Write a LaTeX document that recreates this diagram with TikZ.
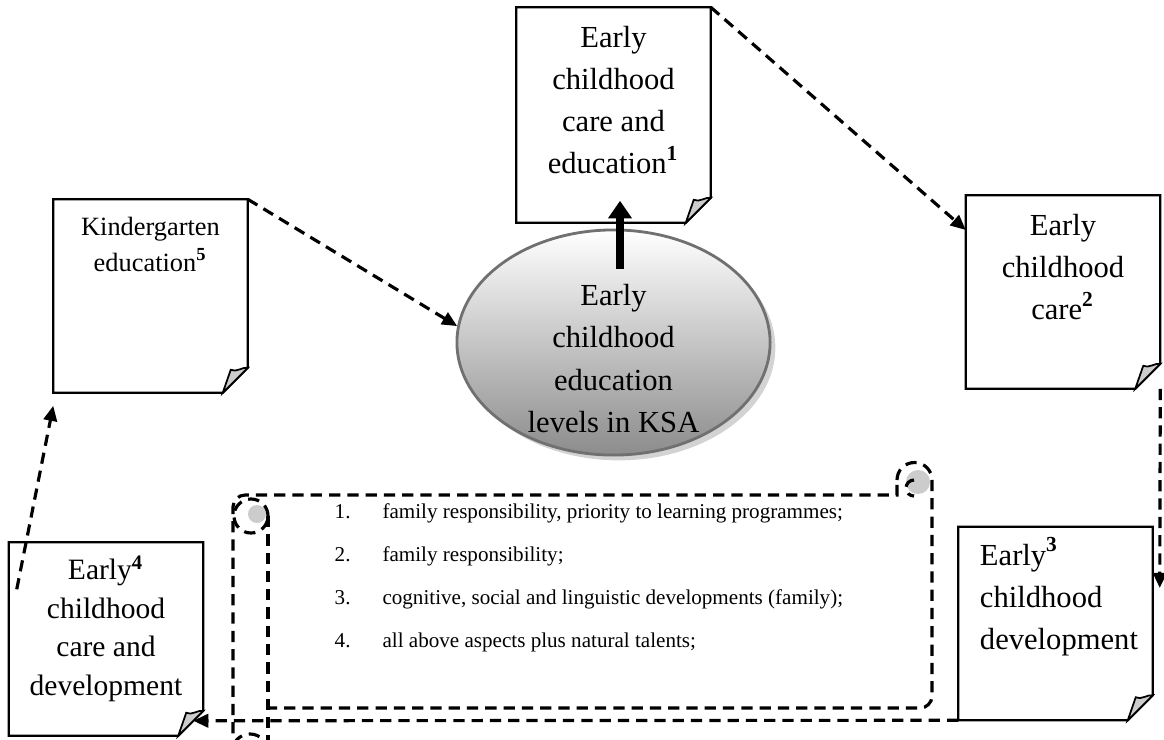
\documentclass[tikz,border=0pt]{standalone}
\usepackage{fontspec}
\setmainfont{Liberation Serif}
\usetikzlibrary{shapes.geometric,arrows.meta,positioning,shadows}
\definecolor{foldgray}{RGB}{204,204,204}
\definecolor{ringgray}{RGB}{112,112,112}
\definecolor{shadegray}{RGB}{140,140,140}

\newcommand{\bigtxt}{\fontsize{8.7}{12}\selectfont}
\newcommand{\smalltxt}{\fontsize{6}{12.2}\selectfont}

\begin{document}
\begin{tikzpicture}[x=0.01cm, y=-0.01cm,
  note/.style={rectangle, minimum width=1.93cm, minimum height=1.92cm, inner sep=0pt},
  txt/.style={inner sep=0pt, align=center, font=\bigtxt},
  flow/.style={draw, line width=0.9pt, dash pattern=on 3.2pt off 2pt, -{Triangle[length=4.3pt,width=3.8pt]}},
  scrollline/.style={line width=0.9pt, dash pattern=on 3.2pt off 2pt}]

\useasboundingbox (0,0) rectangle (1164,739);

% the five notes
\node[note, minimum height=2.14cm] (edu) at (613.5,115) {};
\node[note] (care) at (1063,292) {};
\node[note] (dev) at (1055.5,623.5) {};
\node[note] (cdev) at (106,639) {};
\node[note] (kg) at (150.5,296) {};

\foreach \n in {edu,care,dev,cdev,kg}{
  \draw[line width=0.6pt] (\n.north west) -- (\n.north east) -- ([yshift=0.25cm]\n.south east)
    -- ([xshift=-0.25cm]\n.south east) -- (\n.south west) -- cycle;
  \filldraw[fill=foldgray, line width=0.5pt] ([yshift=0.25cm]\n.south east)
    .. controls +(-0.05cm,0.01cm) and +(0.05cm,-0.03cm) .. ([xshift=-0.17cm,yshift=0.23cm]\n.south east)
    -- ([xshift=-0.25cm]\n.south east) -- cycle;
}

% centre
\node[ellipse, minimum width=3.13cm, minimum height=2.25cm, draw=ringgray, line width=0.8pt,
  top color=white, bottom color=shadegray,
  drop shadow={shadow xshift=1.5pt, shadow yshift=-1.5pt, opacity=0.35}] (ell) at (613.5,342.5) {};

% texts
\node[txt, below=0.18cm of edu.north] (edu-t) {Early\\childhood\\care and\\education\textsuperscript{\textbf{1}}};
\node[txt, below=0.18cm of care.north] (care-t) {Early\\childhood\\care\textsuperscript{\textbf{2}}};
\node[txt, align=left, anchor=north west] (dev-t) at ([xshift=0.21cm,yshift=-0.1cm]dev.north west) {Early\textsuperscript{\textbf{3}}\\childhood\\development};
\node[txt, font=\fontsize{8.4}{11}\selectfont, below=0.13cm of cdev.north] (cdev-t) {Early\textsuperscript{\textbf{4}}\\childhood\\care and\\development};
\node[txt, font=\fontsize{7.5}{10.2}\selectfont, below=0.17cm of kg.north] (kg-t) {Kindergarten\\education\textsuperscript{\textbf{5}}};
\node[txt] (ell-t) at ([yshift=-0.16cm]ell.center) {Early\\childhood\\education\\levels in KSA};

% scroll
\fill[foldgray] (918,482) circle[radius=0.12cm];
\fill[foldgray] (257,514) circle[radius=0.09cm];
\draw[scrollline, rounded corners=0.12cm] (233,770) -- (233,495) [sharp corners] -- (897,495) -- (897,480);
\draw[scrollline] (897,480) arc[start angle=180, end angle=0, radius=0.175cm] -- (932,696)
  arc[start angle=0, end angle=-90, radius=0.12cm] -- (268,708);
\draw[scrollline] (914,480) arc[start angle=90, end angle=270, radius=0.08cm];
\draw[scrollline] (251,516) circle[radius=0.17cm];
\draw[scrollline] (268,516) -- (268,770);
\draw[scrollline] (250,752) circle[radius=0.18cm];

\node[inner sep=0pt, anchor=north west, align=left, font=\smalltxt] (list) at (334,503)
  {\makebox[13.6pt][l]{1.}family responsibility, priority to learning programmes;\\
   \makebox[13.6pt][l]{2.}family responsibility;\\
   \makebox[13.6pt][l]{3.}cognitive, social and linguistic developments (family);\\
   \makebox[13.6pt][l]{4.}all above aspects plus natural talents;};

% connectors
\draw[line width=2pt, -{Triangle[length=5pt,width=6.5pt]}] ([xshift=0.065cm,yshift=-0.4cm]ell.north) -- ([xshift=0.065cm,yshift=0.22cm]edu.south);
\draw[flow] (edu.north east) -- ([yshift=0.62cm]care.west);
\draw[flow] (kg.north east) -- (ell.174);
\draw[flow] (care.south east) -- ([xshift=0.07cm,yshift=0.355cm]dev.east);
\draw[flow] (dev.south west) -- ([xshift=-0.1cm,yshift=0.15cm]cdev.south east);
\draw[flow] ([xshift=0.08cm,yshift=-0.47cm]cdev.north west) -- ([yshift=-0.13cm]kg.south west);

\end{tikzpicture}
\end{document}
